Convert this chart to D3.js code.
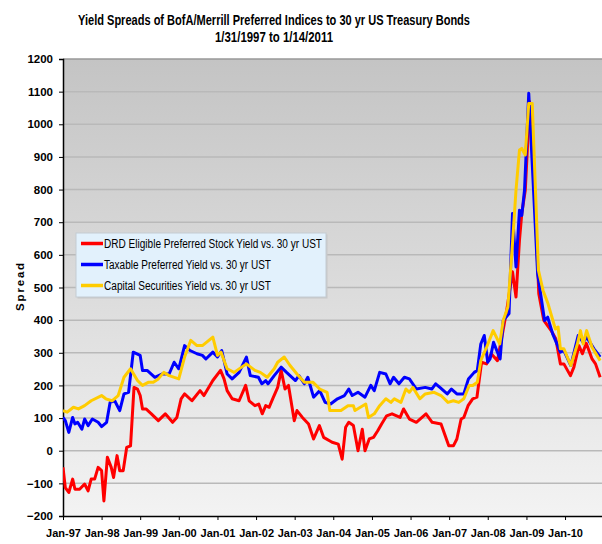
<!DOCTYPE html>
<html>
<head>
<meta charset="utf-8">
<script src="https://cdn.jsdelivr.net/npm/d3@7"></script>
<style>
  body { margin: 0; background: #fff; }
  svg { display: block; }
  .axis text { font-family: "Liberation Sans", Arial, sans-serif; font-weight: bold; font-size: 11px; fill: #000; }
</style>
</head>
<body>
<svg id="chart" width="602" height="544"></svg>
<script>
//============================================================
// Data (dates as decimal years)
//------------------------------------------------------------

var seriesNames = [
    'DRD Eligible Preferred Stock Yield vs. 30 yr UST',
    'Taxable Preferred Yield vs. 30 yr UST',
    'Capital Securities Yield vs. 30 yr UST'
];
var seriesColors = ['#ff0000', '#0000ff', '#ffcc00'];

var drdDates = [1997.00, 1997.06, 1997.15, 1997.25, 1997.31, 1997.43, 1997.56, 1997.65, 1997.73, 1997.82, 1997.91,
    1998.00, 1998.06, 1998.15, 1998.25, 1998.31, 1998.40, 1998.47, 1998.56, 1998.65, 1998.75, 1998.84, 1998.93,
    1999.00, 1999.06, 1999.15, 1999.29, 1999.47, 1999.65, 1999.84, 1999.95, 2000.06, 2000.15, 2000.34, 2000.55,
    2000.65, 2000.88, 2001.08, 2001.17, 2001.25, 2001.38, 2001.56, 2001.73, 2001.82, 2001.97, 2002.07, 2002.16,
    2002.25, 2002.34, 2002.43, 2002.56, 2002.65, 2002.75, 2002.84, 2002.99, 2003.06, 2003.20, 2003.36, 2003.49,
    2003.64, 2003.75, 2003.97, 2004.13, 2004.23, 2004.32, 2004.40, 2004.52, 2004.64, 2004.75, 2004.82, 2004.93,
    2005.04, 2005.15, 2005.25, 2005.38, 2005.52, 2005.73, 2005.82, 2005.97, 2006.15, 2006.40, 2006.56, 2006.79,
    2006.99, 2007.11, 2007.20, 2007.31, 2007.38, 2007.49, 2007.61, 2007.72, 2007.84, 2007.97, 2008.09, 2008.25,
    2008.38, 2008.49, 2008.64, 2008.73, 2008.82, 2008.88, 2008.97, 2009.04, 2009.08, 2009.20, 2009.32, 2009.45,
    2009.64, 2009.76, 2009.88, 2009.97, 2010.14, 2010.23, 2010.36, 2010.45, 2010.55, 2010.70, 2010.79, 2010.91];
var drdValues = [-51, -113, -128, -87, -118, -118, -102, -123, -87, -87, -51,
    -61, -154, -20, -51, -82, -15, -61, -61, 10, 15, 194, 189,
    169, 128, 128, 113, 92, 113, 87, 102, 159, 174, 153, 184,
    169, 215, 246, 220, 184, 159, 153, 200, 153, 138, 143, 113,
    138, 133, 159, 194, 246, 189, 200, 92, 123, 102, 82, 36,
    77, 41, 26, 20, -26, 72, 87, 77, 0, 66, 0, 36,
    41, 61, 82, 107, 113, 102, 128, 97, 87, 113, 87, 82,
    15, 15, 36, 97, 102, 138, 159, 164, 271, 266, 297, 276,
    358, 430, 548, 471, 645, 727, 798, 962, 1070, 829, 481, 399,
    368, 343, 266, 266, 230, 256, 322, 297, 329, 281, 266, 225];

var taxDates = [1997.00, 1997.06, 1997.15, 1997.25, 1997.31, 1997.38, 1997.49, 1997.56, 1997.65, 1997.76, 1997.91,
    1998.00, 1998.13, 1998.22, 1998.34, 1998.47, 1998.58, 1998.70, 1998.82, 1999.00, 1999.06, 1999.18, 1999.38,
    1999.56, 1999.75, 1999.88, 2000.00, 2000.15, 2000.29, 2000.47, 2000.61, 2000.70, 2000.88, 2001.00, 2001.11,
    2001.25, 2001.38, 2001.56, 2001.75, 2001.85, 2002.06, 2002.15, 2002.25, 2002.31, 2002.47, 2002.65, 2002.79,
    2003.02, 2003.11, 2003.25, 2003.34, 2003.49, 2003.65, 2003.79, 2003.93, 2004.11, 2004.29, 2004.40, 2004.49,
    2004.64, 2004.82, 2004.97, 2005.06, 2005.20, 2005.36, 2005.47, 2005.56, 2005.70, 2005.84, 2005.97, 2006.15,
    2006.38, 2006.55, 2006.65, 2006.76, 2006.95, 2007.06, 2007.20, 2007.38, 2007.50, 2007.65, 2007.73, 2007.82,
    2007.91, 2008.00, 2008.06, 2008.15, 2008.32, 2008.40, 2008.55, 2008.64, 2008.73, 2008.82, 2008.88, 2008.95,
    2009.06, 2009.15, 2009.29, 2009.47, 2009.55, 2009.68, 2009.88, 2009.97, 2010.15, 2010.34, 2010.47, 2010.56,
    2010.75, 2010.91];
var taxValues = [102, 92, 56, 102, 82, 87, 66, 97, 77, 97, 87,
    74, 87, 148, 153, 123, 174, 179, 302, 292, 246, 246, 225,
    235, 235, 271, 251, 322, 307, 297, 292, 281, 302, 287, 307,
    235, 220, 240, 287, 230, 225, 205, 215, 205, 230, 256, 240,
    215, 230, 205, 225, 164, 184, 148, 143, 159, 169, 189, 169,
    179, 164, 200, 184, 240, 235, 205, 225, 205, 225, 220, 189,
    194, 189, 205, 194, 174, 189, 174, 174, 220, 240, 246, 327,
    353, 271, 281, 332, 281, 399, 420, 727, 563, 737, 721, 798,
    1095, 880, 542, 399, 409, 358, 302, 307, 261, 353, 332, 348,
    312, 287];

var capDates = [1997.00, 1997.11, 1997.27, 1997.40, 1997.56, 1997.73, 1998.00, 1998.11, 1998.27, 1998.43, 1998.58,
    1998.75, 1998.93, 1999.06, 1999.22, 1999.34, 1999.47, 1999.61, 1999.75, 2000.00, 2000.15, 2000.31, 2000.47,
    2000.61, 2000.88, 2001.00, 2001.09, 2001.25, 2001.43, 2001.75, 2001.97, 2002.11, 2002.29, 2002.47, 2002.56,
    2002.73, 2002.88, 2003.06, 2003.25, 2003.47, 2003.65, 2003.84, 2003.91, 2004.20, 2004.38, 2004.52, 2004.56,
    2004.84, 2004.91, 2005.06, 2005.20, 2005.36, 2005.49, 2005.58, 2005.75, 2005.88, 2005.97, 2006.06, 2006.24,
    2006.38, 2006.61, 2006.79, 2006.97, 2007.11, 2007.25, 2007.38, 2007.52, 2007.61, 2007.73, 2007.82, 2007.97,
    2008.14, 2008.31, 2008.40, 2008.52, 2008.64, 2008.73, 2008.82, 2008.88, 2008.97, 2009.06, 2009.15, 2009.25,
    2009.31, 2009.43, 2009.56, 2009.75, 2009.82, 2009.88, 2009.97, 2010.15, 2010.32, 2010.40, 2010.47, 2010.56,
    2010.70, 2010.91];
var capValues = [123, 118, 133, 128, 138, 153, 169, 159, 153, 169, 225,
    251, 215, 200, 210, 210, 220, 240, 230, 220, 287, 338, 322,
    322, 348, 292, 302, 251, 240, 266, 246, 240, 225, 251, 271,
    287, 261, 235, 210, 210, 189, 179, 123, 123, 138, 138, 123,
    143, 102, 113, 138, 159, 148, 159, 148, 189, 179, 194, 159,
    174, 179, 169, 148, 153, 148, 159, 200, 200, 210, 276, 317,
    368, 327, 399, 440, 635, 798, 921, 926, 906, 1064, 1064, 747,
    553, 491, 450, 373, 379, 312, 312, 261, 327, 368, 327, 368,
    317, 276];

var yTickValues = d3.range(-200, 1201, 100);

//============================================================
// Layout
//------------------------------------------------------------

var margin = { top: 59, left: 63, bottom: 28 },
    width = 602,
    height = 544,
    plotRight = 605,            // 14 Jan 2011 falls just past the image edge
    plotBottom = height - margin.bottom;

function yearToDate(t) {
    var y = Math.floor(t),
        start = new Date(y, 0, 1),
        end = new Date(y + 1, 0, 1);
    return new Date(+start + (t - y) * (end - start));
}

var x = d3.scaleTime()
    .domain([new Date(1997, 0, 1), new Date(2011, 0, 14)])
    .range([margin.left, plotRight]);

var y = d3.scaleLinear()
    .domain([-200, 1200])
    .range([plotBottom, margin.top]);

var svg = d3.select('#chart');
var defs = svg.append('defs');

var grad = defs.append('linearGradient')
    .attr('id', 'plotBg')
    .attr('x1', 0).attr('y1', 0).attr('x2', 0).attr('y2', 1);
grad.append('stop').attr('offset', '0%').attr('stop-color', '#c4c4c4');
grad.append('stop').attr('offset', '100%').attr('stop-color', '#f3f3f3');

defs.append('clipPath').attr('id', 'plotClip')
    .append('rect')
    .attr('x', margin.left).attr('y', margin.top - 5)
    .attr('width', width - margin.left).attr('height', plotBottom - margin.top + 10);

// plot background
svg.append('rect')
    .attr('x', margin.left)
    .attr('y', margin.top)
    .attr('width', width - margin.left)
    .attr('height', plotBottom - margin.top)
    .style('fill', 'url(#plotBg)');

// horizontal gridlines
svg.append('g').selectAll('line')
    .data(yTickValues.filter(function(d) { return d > -200; }))
    .enter().append('line')
    .attr('x1', margin.left).attr('x2', width)
    .attr('y1', function(d) { return y(d); })
    .attr('y2', function(d) { return y(d); })
    .style('stroke', function(d) { return d == 1200 ? '#999' : '#b9b9b9'; })
    .style('stroke-width', 1.5);

//============================================================
// Axes
//------------------------------------------------------------

var yAxis = d3.axisLeft(y)
    .tickValues(yTickValues)
    .tickFormat(d3.format('d'))
    .tickSize(4)
    .tickPadding(6);

var yAxisG = svg.append('g')
    .attr('class', 'axis')
    .attr('transform', 'translate(' + margin.left + ',0)')
    .call(yAxis);
yAxisG.select('.domain').style('stroke', '#000').style('stroke-width', 1.5);
yAxisG.selectAll('.tick line').style('stroke', '#000');
yAxisG.selectAll('.tick text').style('font-size', '11.5px');

var xTicks = d3.range(1997, 2011).map(function(yr) { return new Date(yr, 0, 1); });
var xAxis = d3.axisBottom(x)
    .tickValues(xTicks)
    .tickFormat(d3.timeFormat('%b-%y'))
    .tickSize(4)
    .tickSizeOuter(0)
    .tickPadding(9);

var xAxisG = svg.append('g')
    .attr('class', 'axis')
    .attr('transform', 'translate(0,' + plotBottom + ')')
    .call(xAxis);
xAxisG.select('.domain').style('stroke', '#000').style('stroke-width', 1.5);
xAxisG.selectAll('.tick line').style('stroke', '#000');

// y axis title
svg.append('text')
    .attr('transform', 'translate(24,286) rotate(-90)')
    .attr('text-anchor', 'middle')
    .style('font-family', '"Liberation Sans", Arial, sans-serif')
    .style('font-weight', 'bold')
    .style('font-size', '11.5px')
    .style('letter-spacing', '1.8px')
    .text('Spread');

//============================================================
// Lines
//------------------------------------------------------------

var series = [
    { dates: drdDates, values: drdValues },
    { dates: taxDates, values: taxValues },
    { dates: capDates, values: capValues }
];

var line = d3.line()
    .x(function(d) { return x(d[0]); })
    .y(function(d) { return y(d[1]); });

var linesG = svg.append('g').attr('clip-path', 'url(#plotClip)');
series.forEach(function(s, i) {
    var pts = s.dates.map(function(t, j) { return [yearToDate(t), s.values[j]]; });
    linesG.append('path')
        .datum(pts)
        .attr('d', line)
        .style('fill', 'none')
        .style('stroke', seriesColors[i])
        .style('stroke-width', 3)
        .style('stroke-linejoin', 'round');
});

//============================================================
// Legend
//------------------------------------------------------------

var legend = svg.append('g').attr('transform', 'translate(76,233)');
legend.append('rect')
    .attr('x', 1.5).attr('y', 1.5)
    .attr('width', 250).attr('height', 64)
    .style('fill', '#c8c8c8');
legend.append('rect')
    .attr('width', 250).attr('height', 64)
    .style('fill', '#e2f1fc')
    .style('stroke', '#c4cbd2')
    .style('stroke-width', 1);

var textLens = [218, 167, 167];
seriesNames.forEach(function(name, i) {
    var cy = 10.5 + i * 21;
    legend.append('line')
        .attr('x1', 5).attr('x2', 27)
        .attr('y1', cy).attr('y2', cy)
        .style('stroke', seriesColors[i])
        .style('stroke-width', 3.5);
    legend.append('text')
        .attr('x', 28).attr('y', cy + 4.5)
        .attr('textLength', textLens[i])
        .attr('lengthAdjust', 'spacingAndGlyphs')
        .style('font-family', '"Liberation Sans", Arial, sans-serif')
        .style('font-size', '12.5px')
        .text(name);
});

//============================================================
// Title (narrow look: small bold font stretched upward)
//------------------------------------------------------------

var titleLines = [
    'Yield Spreads of BofA/Merrill Preferred Indices to 30 yr US Treasury Bonds',
    '1/31/1997 to 1/14/2011'
];
var titleLens = [392, 118],
    titleBase = [24.5, 42];
titleLines.forEach(function(t, i) {
    svg.append('g')
        .attr('transform', 'translate(274,' + titleBase[i] + ') scale(1,1.4)')
        .append('text')
        .attr('text-anchor', 'middle')
        .attr('textLength', titleLens[i])
        .attr('lengthAdjust', 'spacingAndGlyphs')
        .style('font-family', '"Liberation Sans", Arial, sans-serif')
        .style('font-weight', 'bold')
        .style('font-size', '11px')
        .text(t);
});
</script>
</body>
</html>
